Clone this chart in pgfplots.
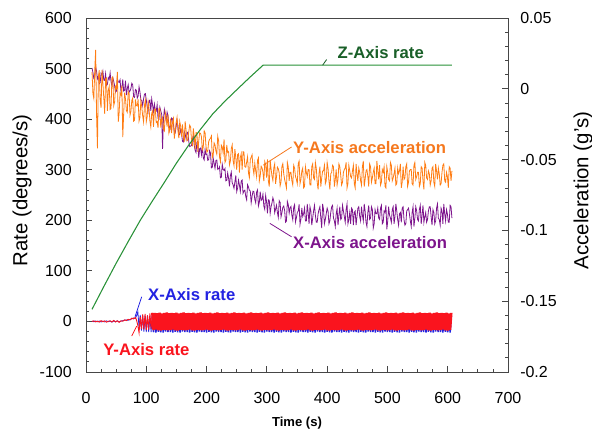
\documentclass[border=0pt]{standalone}
\usepackage{fontspec}
\setmainfont{Liberation Sans}
\usepackage{pgfplots}
\usepackage{pgfplotstable}
\pgfplotsset{compat=1.18}

\definecolor{zgreen}{RGB}{40,145,55}
\definecolor{zgreentext}{RGB}{25,95,40}
\definecolor{yorange}{RGB}{255,125,20}
\definecolor{yorangetext}{RGB}{245,120,30}
\definecolor{xpurple}{RGB}{125,20,140}
\definecolor{yred}{RGB}{250,20,30}
\definecolor{xblue}{RGB}{35,35,225}
\definecolor{framegray}{RGB}{70,70,70}

% Accelerations (g's) along the two horizontal axes
\pgfplotstableread{
t xacc yacc
10 0.0147 0.0118
11.5 0.0115 -0.0035
13 0.0072 -0.0068
14.5 0.0079 0.0129
16 0.0156 0.0275
17.5 0.0124 -0.0178
19 0.0071 -0.0421
20.5 0.0089 0.0086
22 0.0036 0.0132
23.5 0.0043 -0.0081
25 0.0110 -0.0134
26.5 0.0098 0.0133
28 0.0125 0.0040
29.5 0.0062 -0.0063
31 0.0059 -0.0177
32.5 0.0107 0.0070
34 0.0024 0.0077
35.5 0.0032 -0.0156
37 0.0079 -0.0010
38.5 0.0066 0.0017
40 0.0113 -0.0146
41.5 0.0051 -0.0139
43 0.0018 0.0078
44.5 0.0076 0.0085
46 0.0053 -0.0119
47.5 0.0020 -0.0092
49 -0.0023 0.0015
50.5 -0.0016 0.0002
52 0.0072 0.0119
53.5 0.0049 -0.0234
55 0.0046 -0.0168
56.5 0.0064 -0.0031
58 -0.0019 -0.0044
59.5 0.0009 0.0023
61 0.0066 -0.0341
62.5 -0.0017 -0.0174
64 -0.0010 -0.0027
65.5 0.0058 -0.0070
67 -0.0045 -0.0153
68.5 0.0002 -0.0166
70 0.0029 -0.0020
71.5 -0.0024 -0.0033
73 -0.0016 -0.0186
74.5 0.0002 -0.0159
76 0.0039 -0.0082
77.5 0.0027 -0.0065
79 -0.0056 -0.0229
80.5 -0.0061 -0.0222
82 -0.0005 -0.0075
83.5 -0.0011 -0.0118
85 -0.0066 -0.0122
86.5 -0.0051 -0.0075
88 0.0014 -0.0228
89.5 -0.0022 -0.0201
91 -0.0077 -0.0084
92.5 -0.0083 -0.0127
94 -0.0118 -0.0191
95.5 -0.0073 -0.0234
97 -0.0038 -0.0117
98.5 -0.0034 -0.0080
100 -0.0079 -0.0233
101.5 -0.0125 -0.0196
103 -0.0160 -0.0090
104.5 -0.0085 -0.0133
106 -0.0080 -0.0226
107.5 -0.0156 -0.0269
109 -0.0071 -0.0173
110.5 -0.0117 -0.0156
112 -0.0162 -0.0269
113.5 -0.0108 -0.0142
115 -0.0153 -0.0145
116.5 -0.0158 -0.0238
118 -0.0113 -0.0232
119.5 -0.0209 -0.0275
121 -0.0214 -0.0138
122.5 -0.0130 -0.0141
124 -0.0155 -0.0274
125.5 -0.0180 -0.0217
127 -0.0425 -0.0201
128.5 -0.0211 -0.0284
130 -0.0146 -0.0297
131.5 -0.0182 -0.0170
133 -0.0228 -0.0204
134.5 -0.0165 -0.0267
136 -0.0191 -0.0180
137.5 -0.0257 -0.0313
139 -0.0293 -0.0286
140.5 -0.0250 -0.0209
142 -0.0206 -0.0313
143.5 -0.0212 -0.0236
145 -0.0248 -0.0209
146.5 -0.0305 -0.0352
148 -0.0311 -0.0295
149.5 -0.0267 -0.0238
151 -0.0223 -0.0202
152.5 -0.0260 -0.0295
154 -0.0326 -0.0348
155.5 -0.0322 -0.0231
157 -0.0288 -0.0265
158.5 -0.0314 -0.0338
160 -0.0370 -0.0251
161.5 -0.0376 -0.0334
163 -0.0302 -0.0377
164.5 -0.0318 -0.0230
166 -0.0354 -0.0294
167.5 -0.0310 -0.0367
169 -0.0306 -0.0360
170.5 -0.0372 -0.0303
172 -0.0408 -0.0256
173.5 -0.0404 -0.0269
175 -0.0400 -0.0363
176.5 -0.0356 -0.0406
178 -0.0332 -0.0279
179.5 -0.0398 -0.0332
181 -0.0434 -0.0426
182.5 -0.0450 -0.0309
184 -0.0376 -0.0312
185.5 -0.0372 -0.0445
187 -0.0488 -0.0368
188.5 -0.0424 -0.0311
190 -0.0419 -0.0315
191.5 -0.0465 -0.0338
193 -0.0401 -0.0431
194.5 -0.0487 -0.0414
196 -0.0502 -0.0297
197.5 -0.0428 -0.0310
199 -0.0464 -0.0404
200.5 -0.0460 -0.0447
202 -0.0505 -0.0440
203.5 -0.0501 -0.0373
205 -0.0437 -0.0357
206.5 -0.0453 -0.0350
208 -0.0558 -0.0333
209.5 -0.0554 -0.0486
211 -0.0490 -0.0469
212.5 -0.0526 -0.0382
214 -0.0561 -0.0396
215.5 -0.0507 -0.0439
217 -0.0503 -0.0462
218.5 -0.0569 -0.0335
220 -0.0564 -0.0368
221.5 -0.0551 -0.0481
223 -0.0628 -0.0515
224.5 -0.0625 -0.0398
226 -0.0532 -0.0411
227.5 -0.0569 -0.0454
229 -0.0576 -0.0357
230.5 -0.0563 -0.0520
232 -0.0650 -0.0504
233.5 -0.0647 -0.0397
235 -0.0594 -0.0450
236.5 -0.0631 -0.0443
238 -0.0688 -0.0537
239.5 -0.0614 -0.0510
241 -0.0589 -0.0423
242.5 -0.0664 -0.0396
244 -0.0678 -0.0509
245.5 -0.0703 -0.0542
247 -0.0657 -0.0426
248.5 -0.0612 -0.0489
250 -0.0726 -0.0572
251.5 -0.0701 -0.0465
253 -0.0645 -0.0458
254.5 -0.0680 -0.0591
256 -0.0725 -0.0485
257.5 -0.0650 -0.0458
259 -0.0644 -0.0571
260.5 -0.0738 -0.0444
262 -0.0722 -0.0447
263.5 -0.0716 -0.0550
265 -0.0760 -0.0554
266.5 -0.0784 -0.0517
268 -0.0678 -0.0480
269.5 -0.0693 -0.0593
271 -0.0717 -0.0627
272.5 -0.0721 -0.0500
274 -0.0805 -0.0483
275.5 -0.0759 -0.0466
277 -0.0723 -0.0559
278.5 -0.0727 -0.0602
280 -0.0781 -0.0526
281.5 -0.0805 -0.0579
283 -0.0729 -0.0622
284.5 -0.0714 -0.0505
286 -0.0828 -0.0488
287.5 -0.0802 -0.0651
289 -0.0726 -0.0615
290.5 -0.0789 -0.0547
292 -0.0782 -0.0558
293.5 -0.0745 -0.0590
295 -0.0828 -0.0652
296.5 -0.0851 -0.0514
298 -0.0754 -0.0535
299.5 -0.0797 -0.0627
301 -0.0880 -0.0498
302.5 -0.0784 -0.0650
304 -0.0787 -0.0691
305.5 -0.0880 -0.0503
307 -0.0833 -0.0565
308.5 -0.0806 -0.0617
310 -0.0769 -0.0648
311.5 -0.0792 -0.0559
313 -0.0875 -0.0530
314.5 -0.0849 -0.0671
316 -0.0822 -0.0622
317.5 -0.0875 -0.0553
319 -0.0908 -0.0564
320.5 -0.0790 -0.0595
322 -0.0802 -0.0686
323.5 -0.0904 -0.0657
325 -0.0875 -0.0548
326.5 -0.0837 -0.0529
328 -0.0828 -0.0600
329.5 -0.0860 -0.0640
331 -0.0942 -0.0670
332.5 -0.0934 -0.0700
334 -0.0795 -0.0520
335.5 -0.0817 -0.0550
337 -0.0878 -0.0650
338.5 -0.0840 -0.0590
340 -0.0831 -0.0590
341.5 -0.0893 -0.0650
343 -0.0925 -0.0680
344.5 -0.0837 -0.0540
346 -0.0818 -0.0560
347.5 -0.0940 -0.0620
349 -0.0911 -0.0640
350.5 -0.0873 -0.0670
352 -0.0864 -0.0530
353.5 -0.0816 -0.0510
355 -0.0958 -0.0670
356.5 -0.0920 -0.0640
358 -0.0841 -0.0580
359.5 -0.0902 -0.0560
361 -0.0883 -0.0700
362.5 -0.0843 -0.0690
364 -0.0933 -0.0550
365.5 -0.0933 -0.0590
367 -0.0813 -0.0620
368.5 -0.0873 -0.0570
370 -0.0953 -0.0570
371.5 -0.0833 -0.0680
373 -0.0863 -0.0680
374.5 -0.0963 -0.0550
376 -0.0913 -0.0530
377.5 -0.0863 -0.0630
379 -0.0823 -0.0640
380.5 -0.0893 -0.0520
382 -0.0943 -0.0560
383.5 -0.0943 -0.0660
385 -0.0883 -0.0710
386.5 -0.0853 -0.0600
388 -0.0833 -0.0550
389.5 -0.0913 -0.0690
391 -0.0983 -0.0630
392.5 -0.0813 -0.0580
394 -0.0853 -0.0580
395.5 -0.0953 -0.0540
397 -0.0923 -0.0670
398.5 -0.0883 -0.0650
400 -0.0843 -0.0520
401.5 -0.0863 -0.0560
403 -0.0953 -0.0650
404.5 -0.0933 -0.0710
406 -0.0873 -0.0600
407.5 -0.0833 -0.0590
409 -0.0823 -0.0540
410.5 -0.0913 -0.0550
412 -0.0933 -0.0690
413.5 -0.0973 -0.0640
415 -0.0883 -0.0570
416.5 -0.0843 -0.0680
418 -0.0963 -0.0640
419.5 -0.0893 -0.0530
421 -0.0833 -0.0550
422.5 -0.0923 -0.0610
424 -0.0913 -0.0680
425.5 -0.0823 -0.0660
427 -0.0863 -0.0590
428.5 -0.0903 -0.0570
430 -0.0943 -0.0560
431.5 -0.0853 -0.0520
433 -0.0813 -0.0700
434.5 -0.0953 -0.0670
436 -0.0923 -0.0540
437.5 -0.0873 -0.0580
439 -0.0953 -0.0620
440.5 -0.0843 -0.0630
442 -0.0853 -0.0580
443.5 -0.0963 -0.0540
445 -0.0873 -0.0670
446.5 -0.0863 -0.0700
448 -0.0963 -0.0530
449.5 -0.0903 -0.0600
451 -0.0843 -0.0650
452.5 -0.0833 -0.0560
454 -0.0903 -0.0590
455.5 -0.0933 -0.0650
457 -0.0833 -0.0680
458.5 -0.0893 -0.0550
460 -0.0933 -0.0510
461.5 -0.0813 -0.0690
463 -0.0863 -0.0640
464.5 -0.0943 -0.0580
466 -0.0973 -0.0570
467.5 -0.0873 -0.0620
469 -0.0823 -0.0690
470.5 -0.0923 -0.0530
472 -0.0913 -0.0550
473.5 -0.0833 -0.0660
475 -0.0853 -0.0630
476.5 -0.0983 -0.0590
478 -0.0953 -0.0560
479.5 -0.0853 -0.0670
481 -0.0883 -0.0670
482.5 -0.0883 -0.0510
484 -0.0843 -0.0580
485.5 -0.0913 -0.0640
487 -0.0923 -0.0540
488.5 -0.0843 -0.0680
490 -0.0823 -0.0660
491.5 -0.0953 -0.0570
493 -0.0943 -0.0590
494.5 -0.0863 -0.0550
496 -0.0873 -0.0690
497.5 -0.0823 -0.0700
499 -0.0993 -0.0550
500.5 -0.0933 -0.0590
502 -0.0833 -0.0640
503.5 -0.0893 -0.0650
505 -0.0913 -0.0520
506.5 -0.0943 -0.0540
508 -0.0853 -0.0650
509.5 -0.0833 -0.0630
511 -0.0953 -0.0600
512.5 -0.0903 -0.0560
514 -0.0813 -0.0680
515.5 -0.0863 -0.0670
517 -0.0923 -0.0560
518.5 -0.0963 -0.0600
520 -0.0883 -0.0580
521.5 -0.0873 -0.0530
523 -0.0943 -0.0700
524.5 -0.0843 -0.0660
526 -0.0833 -0.0550
527.5 -0.0923 -0.0640
529 -0.0963 -0.0630
530.5 -0.0953 -0.0550
532 -0.0863 -0.0530
533.5 -0.0853 -0.0690
535 -0.0843 -0.0660
536.5 -0.0883 -0.0580
538 -0.0933 -0.0570
539.5 -0.0973 -0.0570
541 -0.0873 -0.0670
542.5 -0.0833 -0.0680
544 -0.0973 -0.0540
545.5 -0.0913 -0.0520
547 -0.0833 -0.0640
548.5 -0.0863 -0.0620
550 -0.0923 -0.0590
551.5 -0.0933 -0.0590
553 -0.0853 -0.0690
554.5 -0.0823 -0.0670
556 -0.0953 -0.0550
557.5 -0.0893 -0.0560
559 -0.0823 -0.0650
560.5 -0.0943 -0.0710
562 -0.0903 -0.0520
563.5 -0.0873 -0.0540
565 -0.0943 -0.0630
566.5 -0.0923 -0.0640
568 -0.0863 -0.0580
569.5 -0.0833 -0.0600
571 -0.0833 -0.0680
572.5 -0.0903 -0.0650
574 -0.0963 -0.0560
575.5 -0.0853 -0.0550
577 -0.0873 -0.0660
578.5 -0.0953 -0.0690
580 -0.0933 -0.0530
581.5 -0.0843 -0.0580
583 -0.0813 -0.0640
584.5 -0.0913 -0.0560
586 -0.0923 -0.0600
587.5 -0.0963 -0.0680
589 -0.0843 -0.0670
590.5 -0.0863 -0.0590
592 -0.0953 -0.0540
593.5 -0.0813 -0.0530
595 -0.0883 -0.0650
596.5 -0.0933 -0.0660
598 -0.0853 -0.0590
599.5 -0.0883 -0.0620
601 -0.0943 -0.0700
602.5 -0.0943 -0.0550
604 -0.0823 -0.0560
605.5 -0.0833 -0.0650
607 -0.0913 -0.0580
}\accel

% Angular rates (degrees/s) about X and Y
\pgfplotstableread{
t yrate xrate
10 0.0 0.5
13 1.2 -0.6
16 -0.8 0.9
19 0.6 -0.7
22 -1.2 0.8
25 1.5 -1.0
28 -0.5 0.6
31 1.1 -0.9
34 -1.4 1.1
37 0.3 -0.5
40 1.2 0.7
43 -1.0 -1.2
46 2.0 0.9
49 -1.1 -0.4
52 1.3 1.0
55 -1.8 -0.8
58 1.2 0.6
61 0.4 1.5
64 3.0 2.5
67 1.8 3.0
70 4.2 2.2
73 3.0 4.0
76 6.5 5.0
79 5.0 7.0
82 8.0 6.0
84 2.0 12.0
86 -8.0 19.0
88 -22.0 -12.0
90 9.0 13.0
92 -15.0 -18.0
94 14.0 12.0
96 -16.0 -20.0
98 15.0 11.0
100 -17.0 -21.0
102 12.0 12.0
104 -16.0 -21.0
106 16.0 10.0
108 -14.0 -21.0
110 17.0 12.0
112 -17 -21
114 17 12
116 -16 -22
118 16.5 11
120 -17.5 -20.5
122 17.5 12
124 -18 -21.5
126 16 10
128 -16.5 -22
130 17 11
132 -17 -20
134 18 12
136 -17.5 -21
138 16.5 11
140 -17 -21
142 17 12
144 -16 -22
146 16.5 10
148 -17.5 -20.5
150 17.5 11
152 -18 -21.5
154 16 12
156 -16.5 -22
158 17 11
160 -17 -20
162 18 12
164 -17.5 -21
166 16.5 10
168 -17 -21
170 17 11
172 -16 -22
174 16.5 12
176 -17.5 -20.5
178 17.5 11
180 -18 -21.5
182 16 12
184 -16.5 -22
186 17 10
188 -17 -20
190 18 11
192 -17.5 -21
194 16.5 12
196 -17 -21
198 17 11
200 -16 -22
202 16.5 12
204 -17.5 -20.5
206 17.5 10
208 -18 -21.5
210 16 11
212 -16.5 -22
214 17 12
216 -17 -20
218 18 11
220 -17.5 -21
222 16.5 12
224 -17 -21
226 17 10
228 -16 -22
230 16.5 11
232 -17.5 -20.5
234 17.5 12
236 -18 -21.5
238 16 11
240 -16.5 -22
242 17 12
244 -17 -20
246 18 10
248 -17.5 -21
250 16.5 11
252 -17 -21
254 17 12
256 -16 -22
258 16.5 11
260 -17.5 -20.5
262 17.5 12
264 -18 -21.5
266 16 10
268 -16.5 -22
270 17 11
272 -17 -20
274 18 12
276 -17.5 -21
278 16.5 11
280 -17 -21
282 17 12
284 -16 -22
286 16.5 10
288 -17.5 -20.5
290 17.5 11
292 -18 -21.5
294 16 12
296 -16.5 -22
298 17 11
300 -17 -20
302 18 12
304 -17.5 -21
306 16.5 10
308 -17 -21
310 17 11
312 -16 -22
314 16.5 12
316 -17.5 -20.5
318 17.5 11
320 -18 -21.5
322 16 12
324 -16.5 -22
326 17 10
328 -17 -20
330 18 11
332 -17.5 -21
334 16.5 12
336 -17 -21
338 17 11
340 -16 -22
342 16.5 12
344 -17.5 -20.5
346 17.5 10
348 -18 -21.5
350 16 11
352 -16.5 -22
354 17 12
356 -17 -20
358 18 11
360 -17.5 -21
362 16.5 12
364 -17 -21
366 17 10
368 -16 -22
370 16.5 11
372 -17.5 -20.5
374 17.5 12
376 -18 -21.5
378 16 11
380 -16.5 -22
382 17 12
384 -17 -20
386 18 10
388 -17.5 -21
390 16.5 11
392 -17 -21
394 17 12
396 -16 -22
398 16.5 11
400 -17.5 -20.5
402 17.5 12
404 -18 -21.5
406 16 10
408 -16.5 -22
410 17 11
412 -17 -20
414 18 12
416 -17.5 -21
418 16.5 11
420 -17 -21
422 17 12
424 -16 -22
426 16.5 10
428 -17.5 -20.5
430 17.5 11
432 -18 -21.5
434 16 12
436 -16.5 -22
438 17 11
440 -17 -20
442 18 12
444 -17.5 -21
446 16.5 10
448 -17 -21
450 17 11
452 -16 -22
454 16.5 12
456 -17.5 -20.5
458 17.5 11
460 -18 -21.5
462 16 12
464 -16.5 -22
466 17 10
468 -17 -20
470 18 11
472 -17.5 -21
474 16.5 12
476 -17 -21
478 17 11
480 -16 -22
482 16.5 12
484 -17.5 -20.5
486 17.5 10
488 -18 -21.5
490 16 11
492 -16.5 -22
494 17 12
496 -17 -20
498 18 11
500 -17.5 -21
502 16.5 12
504 -17 -21
506 17 10
508 -16 -22
510 16.5 11
512 -17.5 -20.5
514 17.5 12
516 -18 -21.5
518 16 11
520 -16.5 -22
522 17 12
524 -17 -20
526 18 10
528 -17.5 -21
530 16.5 11
532 -17 -21
534 17 12
536 -16 -22
538 16.5 11
540 -17.5 -20.5
542 17.5 12
544 -18 -21.5
546 16 10
548 -16.5 -22
550 17 11
552 -17 -20
554 18 12
556 -17.5 -21
558 16.5 11
560 -17 -21
562 17 12
564 -16 -22
566 16.5 10
568 -17.5 -20.5
570 17.5 11
572 -18 -21.5
574 16 12
576 -16.5 -22
578 17 11
580 -17 -20
582 18 12
584 -17.5 -21
586 16.5 10
588 -17 -21
590 17 11
592 -16 -22
594 16.5 12
596 -17.5 -20.5
598 17.5 11
600 -18 -21.5
602 16 12
604 -16.5 -22
606 17 10
}\rates

\pgfplotsset{
  chartframe/.style={
    scale only axis,
    width=316.5pt, height=265.5pt,
    at={(64.5pt,43.5pt)}, anchor=south west,
    xmin=0, xmax=700,
    axis line style={framegray, line width=0.7pt},
    every tick/.style={framegray, line width=0.6pt},
    tick align=inside,
    major tick length=4.5pt, minor tick length=2.6pt,
    /pgf/number format/assume math mode=true,
    tick label style={font=\fontsize{12}{14}\selectfont},
    scaled ticks=false,
  },
}
\tikzset{
  annot/.style={anchor=west, inner sep=0pt, font=\fontsize{12.5}{15}\bfseries\selectfont},
}

\begin{document}
\begin{tikzpicture}
\useasboundingbox (0,0) rectangle (444pt,322.5pt);

% Right-hand scale: accelerations in g's
\begin{axis}[chartframe,
  ymin=-0.2, ymax=0.05,
  ytick={-0.2,-0.15,-0.1,-0.05,0,0.05},
  minor y tick num=4,
  xtick=\empty,
  ytick pos=right, yticklabel pos=right,
  yticklabel style={anchor=west, inner sep=0pt, xshift=9pt,
    /pgf/number format/fixed, /pgf/number format/precision=2},
  ylabel={Acceleration (g's)},
  every axis y label/.style={at={(axis description cs:1.1777,0.513)}, rotate=90, anchor=center,
    font=\fontsize{15.3}{18}\selectfont},
]
\addplot[xpurple, line width=0.6pt] table[x=t, y=xacc] {\accel};
\addplot[yorange, line width=0.6pt] table[x=t, y=yacc] {\accel};
\end{axis}

% Left-hand scale: angular rates in degrees/s
\begin{axis}[chartframe,
  ymin=-100, ymax=600,
  ytick={-100,0,100,200,300,400,500,600},
  xtick={0,100,200,300,400,500,600,700},
  minor x tick num=3, minor y tick num=4,
  ytick pos=left, xtick pos=left,
  yticklabel style={anchor=east, inner sep=0pt, xshift=-10.5pt},
  xticklabel style={anchor=center, inner sep=0pt, yshift=-19.5pt},
  ylabel={Rate (degrees/s)},
  every axis y label/.style={at={(axis description cs:-0.1517,0.513)}, rotate=90, anchor=center,
    font=\fontsize{15.3}{18}\selectfont},
  xlabel={Time (s)},
  every axis x label/.style={at={(axis description cs:0.5,-0.143)}, anchor=center,
    font=\fontsize{9.8}{12}\bfseries\selectfont},
]
\addplot[zgreen, line width=0.8pt] coordinates {
  (10,24) (30,70) (50,115) (70,158) (90,200) (110,238) (130,275) (150,313)
  (170,348) (190,380) (210,410) (230,435) (250,458) (272,483) (294,507) (607,507)
};
% quiet start, then the dense oscillation drawn with a heavier pen
\addplot[xblue, line width=0.6pt, restrict x to domain=10:112] table[x=t, y=xrate] {\rates};
\addplot[xblue, line width=1.1pt, restrict x to domain=110:607] table[x=t, y=xrate] {\rates};
\addplot[yred, line width=0.7pt, restrict x to domain=10:112] table[x=t, y=yrate] {\rates};
\addplot[yred, line width=1.8pt, restrict x to domain=110:607] table[x=t, y=yrate] {\rates};

\draw[zgreentext, line width=0.6pt] (axis cs:392.5,506.7) -- (axis cs:399.2,518);
\node[annot, text=zgreentext] at (axis cs:417,532) {Z-Axis rate};

\draw[yorangetext, line width=0.6pt] (axis cs:341,345) -- (axis cs:294,309);
\node[annot, text=yorangetext] at (axis cs:343.3,344.7) {Y-Axis acceleration};

\draw[xpurple, line width=0.6pt] (axis cs:341,167.4) -- (axis cs:305,193.9);
\node[annot, text=xpurple] at (axis cs:343.3,156.9) {X-Axis acceleration};

\draw[xblue, line width=0.6pt] (axis cs:92.4,48.8) -- (axis cs:81.3,9.3);
\node[annot, text=xblue] at (axis cs:102.8,52.2) {X-Axis rate};

\draw[yred, line width=0.6pt] (axis cs:75.8,-28.9) -- (axis cs:84.1,-9.1);
\node[annot, text=yred] at (axis cs:28.2,-56.5) {Y-Axis rate};
\end{axis}
\end{tikzpicture}
\end{document}
